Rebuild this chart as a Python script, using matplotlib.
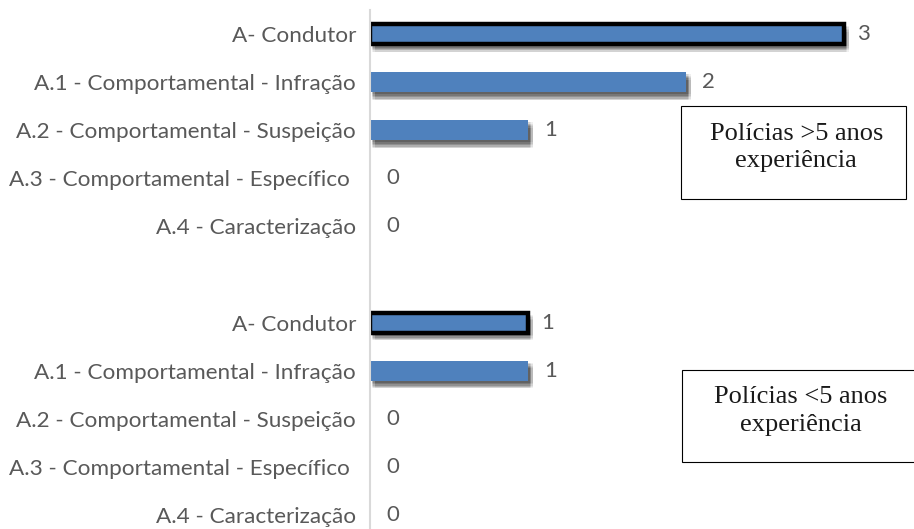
import matplotlib
matplotlib.use('Agg')
import matplotlib.pyplot as plt
from matplotlib import patheffects as pe
from matplotlib.patches import Rectangle

categorias = ['A- Condutor',
              'A.1 - Comportamental - Infração',
              'A.2 - Comportamental - Suspeição',
              'A.3 - Comportamental - Específico ',
              'A.4 - Caracterização']
mais_5 = [3, 2, 1, 0, 0]
menos_5 = [1, 1, 0, 0, 0]
titulo_mais = 'Polícias >5 anos\nexperiência'
titulo_menos = 'Polícias <5 anos\nexperiência'

azul = '#4f81bd'
cinza_txt = '#595959'

fig = plt.figure(figsize=(9.14, 5.29), dpi=100)
ax = fig.add_axes([370 / 914, 0, (896 - 370) / 914, 1 - 10 / 529])

# sombra difusa por baixo das barras
sombra = []
for dx in (1.5, 2.5, 3.5):
    for dy in (1.5, 2.5, 3.5, 4.5, 5.5):
        sombra.append(pe.SimplePatchShadow(offset=(dx, -dy), shadow_rgbFace='black', alpha=0.06))
sombra.append(pe.Normal())

pos_mais = list(range(0, 5))
pos_menos = list(range(6, 11))

for pos, vals in ((pos_mais, mais_5), (pos_menos, menos_5)):
    for i, (p, v) in enumerate(zip(pos, vals)):
        if v > 0:
            borda = dict(edgecolor='black', linewidth=3.2) if i == 0 else dict(linewidth=0)
            b = ax.barh(p, v, height=0.42, color=azul, **borda)
            for patch in b:
                patch.set_path_effects(sombra)
        off = 13 if i == 0 and v > 0 else 16
        ax.annotate(str(v), (v, p), xytext=(off, 0), textcoords='offset pixels',
                    ha='left', va='center', fontsize=16, color=cinza_txt, family='Lato')

ax.set_xlim(0, (896 - 370) / 158)
ax.set_ylim(10.29, -0.5)
ax.set_yticks(pos_mais + pos_menos, categorias + categorias)
ax.tick_params(axis='y', length=0, pad=10, labelsize=16.2, labelcolor=cinza_txt)
for lab in ax.get_yticklabels():
    lab.set_family('Lato')
ax.set_xticks([])
for s in ('top', 'right', 'bottom'):
    ax.spines[s].set_visible(False)
ax.spines['left'].set_color('#d9d9d9')
ax.spines['left'].set_linewidth(1.5)

# caixas de texto com o grupo de experiência
for (x0, y0, x1, y1), txt in (((681, 106, 906, 199), titulo_mais),
                              ((682, 370, 916, 462), titulo_menos)):
    fig.patches.append(Rectangle((x0 / 914, 1 - y1 / 529), (x1 - x0) / 914, (y1 - y0) / 529,
                                 transform=fig.transFigure, facecolor='white',
                                 edgecolor='black', linewidth=0.8))
    fig.text((x0 + min(x1, 914)) / 2 / 914 + 0.003, 1 - ((y0 + y1) / 2 - 5) / 529, txt,
             ha='center', va='center', fontsize=19, family='Liberation Serif',
             color='#1a1a1a', linespacing=1.35)

fig.savefig('out.png', dpi=100)
